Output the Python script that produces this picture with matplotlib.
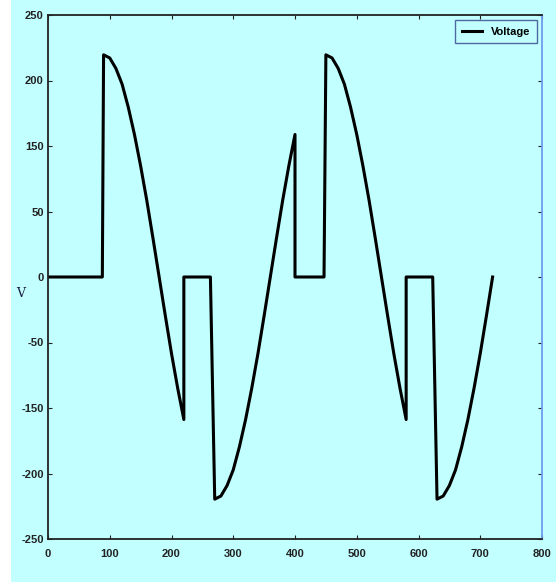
import matplotlib.pyplot as plt
from matplotlib.patches import Rectangle

# waveform (angle in degrees, voltage)
x = [0, 88, 90, 100, 110, 120, 130, 140, 150, 160, 170, 180, 190, 200, 210, 220,
     220, 263,
     270, 280, 290, 300, 310, 320, 330, 340, 350, 360, 370, 380, 390, 400,
     400, 447,
     450, 460, 470, 480, 490, 500, 510, 520, 530, 540, 550, 560, 570, 580,
     580, 623,
     630, 640, 650, 660, 670, 680, 690, 700, 710, 720]
v = [0, 0, 212, 209, 199, 184, 162, 136, 106, 73, 37, 0, -37, -73, -106, -136,
     0, 0,
     -212, -209, -199, -184, -162, -136, -106, -73, -37, 0, 37, 73, 106, 136,
     0, 0,
     212, 209, 199, 184, 162, 136, 106, 73, 37, 0, -37, -73, -106, -136,
     0, 0,
     -212, -209, -199, -184, -162, -136, -106, -73, -37, 0]

xticks = [0, 100, 200, 300, 400, 500, 600, 700, 800]
yticks = [-250, -187.5, -125, -62.5, 0, 62.5, 125, 187.5, 250]
ylabels = ["-250", "-200", "-150", "-50", "0", "50", "150", "200", "250"]

bg = "#c2ffff"
fig = plt.figure(figsize=(5.56, 5.82), dpi=100, facecolor=bg)
fig.add_artist(Rectangle((0, 0), 11 / 556, 1, transform=fig.transFigure,
                         facecolor="white", edgecolor="none", zorder=-1))
ax = fig.add_axes([48 / 556, 1 - 539 / 582, 494 / 556, 524 / 582], facecolor=bg)

ax.plot(x, v, color="black", lw=2.2, label="Voltage")

ax.set_xlim(0, 800)
ax.set_ylim(-250, 250)
ax.set_xticks(xticks)
ax.set_yticks(yticks)
ax.set_yticklabels(ylabels)

fnt = ["Liberation Sans Narrow", "Liberation Sans", "DejaVu Sans"]
for lab in ax.get_xticklabels() + ax.get_yticklabels():
    lab.set_family(fnt)
    lab.set_fontsize(8)
    lab.set_fontweight("bold")

ax.tick_params(direction="in", length=3, top=True, right=True, pad=3, colors="#222222")
ax.tick_params(axis="x", pad=7)
for s in ["left", "bottom", "top"]:
    ax.spines[s].set_color("#222222")
    ax.spines[s].set_linewidth(1.3)
ax.spines["right"].set_color("#6f9cf0")
ax.spines["right"].set_linewidth(1.3)

ax.set_ylabel("V", rotation=0, family="serif", fontsize=9, color="#1a1a40")
ax.yaxis.set_label_coords(-0.055, 0.456)

leg = ax.legend(loc="upper right", prop={"family": fnt, "size": 8, "weight": "bold"},
                frameon=True, fancybox=False, handlelength=1.8, borderpad=0.6,
                borderaxespad=0.45)
leg.get_frame().set_edgecolor("#334488")
leg.get_frame().set_facecolor(bg)

fig.savefig("out.png", dpi=100, facecolor=bg)
